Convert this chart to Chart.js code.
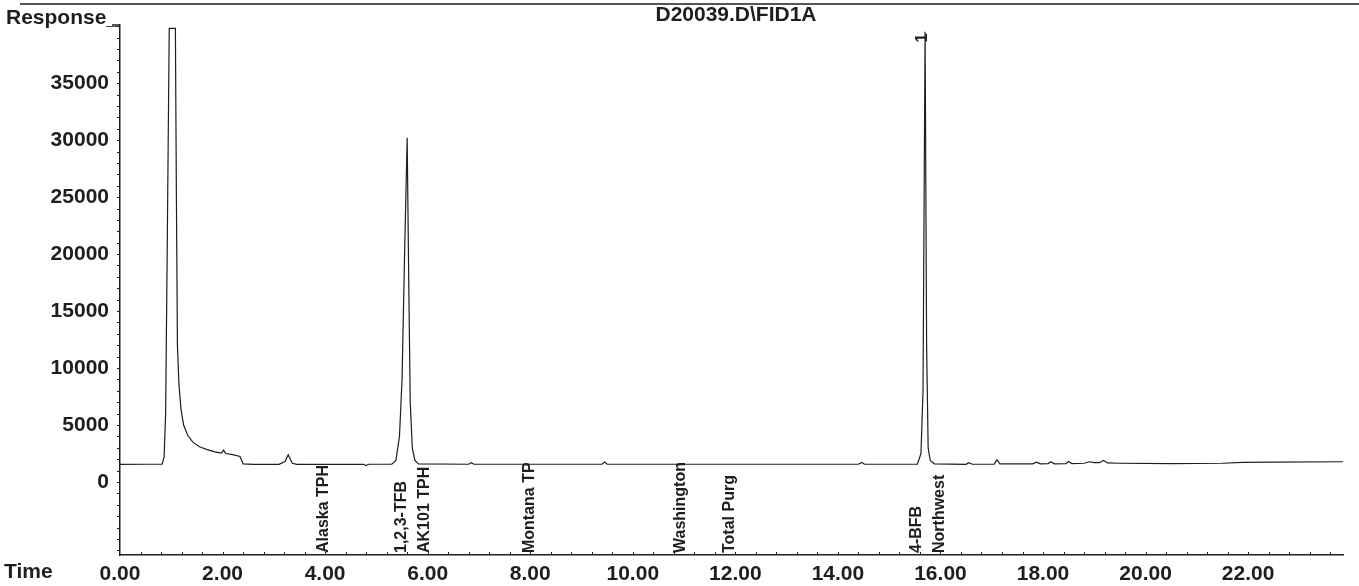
<!DOCTYPE html>
<html>
<head>
<meta charset="utf-8">
<script src="https://cdn.jsdelivr.net/npm/chart.js@4/dist/chart.umd.min.js"></script>
<style>
  body { margin: 0; background: #fff; }
  canvas { display: block; }
</style>
</head>
<body>
<canvas id="myChart" width="1359" height="586"></canvas>
<script>
// retention time (min) and detector response
var times = [0.00, 0.50, 0.82, 0.86, 0.89, 0.92, 0.96, 1.08, 1.10, 1.12, 1.15, 1.19, 1.24, 1.32, 1.42, 1.55, 1.70, 1.85, 1.98, 2.02, 2.06, 2.20, 2.34, 2.40, 2.60,
  3.10, 3.22, 3.28, 3.36, 3.45, 4.75, 4.80, 4.85, 5.30, 5.38, 5.45, 5.50, 5.55, 5.60, 5.63, 5.66, 5.70, 5.75, 5.82,
  6.80, 6.85, 6.90, 9.40, 9.45, 9.50, 14.40, 14.46, 14.52, 15.55, 15.62, 15.66, 15.70, 15.73, 15.76, 15.80, 15.88,
  16.50, 16.55, 16.62, 17.05, 17.10, 17.16, 17.80, 17.87, 17.95, 18.10, 18.15, 18.22, 18.45, 18.50, 18.56,
  18.80, 18.90, 19.00, 19.10, 19.18, 19.26, 19.50, 20.50, 21.50, 21.90, 22.50, 23.85];
var responses = [1550, 1560, 1580, 2200, 6000, 20000, 39800, 39800, 25000, 12000, 8500, 6400, 5000, 4100, 3500, 3100, 2850, 2650, 2550, 2800, 2500, 2400, 2250, 1600, 1550,
  1550, 1800, 2400, 1650, 1550, 1560, 1450, 1560, 1560, 1900, 4000, 9000, 20000, 30200, 18000, 7000, 3000, 1900, 1600,
  1560, 1700, 1560, 1560, 1750, 1560, 1560, 1720, 1560, 1570, 2500, 8000, 39500, 12000, 3000, 1900, 1600,
  1560, 1700, 1560, 1580, 1950, 1600, 1600, 1750, 1600, 1620, 1780, 1600, 1620, 1800, 1620,
  1650, 1780, 1700, 1700, 1900, 1680, 1650, 1620, 1650, 1720, 1740, 1780];

var markerNames = ['Alaska TPH', '1,2,3-TFB', 'AK101 TPH', 'Montana TP', 'Washington', 'Total Purg', '4-BFB', 'Northwest'];
var markerTimes = [3.98, 5.49, 5.94, 7.99, 10.94, 11.89, 15.53, 15.98];

var xTicks = [0, 2, 4, 6, 8, 10, 12, 14, 16, 18, 20, 22];
var yTicks = [0, 5000, 10000, 15000, 20000, 25000, 30000, 35000];

var peakLabelTime = 15.70;
var peakLabelText = '1';

var points = times.map(function (t, i) { return {x: t, y: responses[i]}; });

var ink = '#1e1e1e';
var boldFont = 'bold 21px "Liberation Sans", Arial, sans-serif';

var annotate = {
  id: 'annotate',
  afterDraw: function (chart) {
    var c = chart.ctx;
    var xs = chart.scales.x;
    var ys = chart.scales.y;
    var area = chart.chartArea;
    c.save();
    // header rule cut off at the top of the page
    c.strokeStyle = '#555';
    c.lineWidth = 2;
    c.beginPath();
    c.moveTo(20, 4);
    c.lineTo(1359, 4);
    c.stroke();

    c.fillStyle = ink;
    c.font = boldFont;
    c.textBaseline = 'alphabetic';
    c.textAlign = 'center';
    c.fillText('D20039.D\\FID1A', 736, 21);
    c.textAlign = 'left';
    c.fillText('Response_', 6, 24);
    c.fillText('Time', 4, 578);

    // corner at top of the response axis
    c.strokeStyle = ink;
    c.lineWidth = 1.5;
    c.beginPath();
    c.moveTo(112, area.top);
    c.lineTo(area.left, area.top);
    c.stroke();

    // small tick marks along both axes
    c.lineWidth = 1;
    c.beginPath();
    for (var t = 0.4; t < xs.max; t += 0.4) {
      var tx = Math.round(xs.getPixelForValue(t)) + 0.5;
      c.moveTo(tx, area.bottom);
      c.lineTo(tx, area.bottom - 3);
    }
    for (var v = -6000; v < ys.max; v += 1000) {
      var ty = Math.round(ys.getPixelForValue(v)) + 0.5;
      c.moveTo(area.left, ty);
      c.lineTo(area.left - 3, ty);
    }
    c.stroke();

    // compound labels, reading upward from the time axis
    c.font = 'bold 16px "Liberation Sans", Arial, sans-serif';
    c.textBaseline = 'middle';
    markerNames.forEach(function (name, i) {
      var px = xs.getPixelForValue(markerTimes[i]);
      c.save();
      c.translate(px, area.bottom - 2);
      c.rotate(-Math.PI / 2);
      c.fillText(name, 0, 0);
      c.restore();
    });

    // peak number above the internal standard
    c.save();
    c.translate(xs.getPixelForValue(peakLabelTime) - 2, 38);
    c.rotate(-Math.PI / 2);
    c.textAlign = 'center';
    c.fillText(peakLabelText, 0, 0);
    c.restore();
    c.restore();
  }
};

var ctx = document.getElementById('myChart').getContext('2d');
var myChart = new Chart(ctx, {
  type: 'line',
  data: {
    datasets: [{
      data: points,
      borderColor: ink,
      borderWidth: 1.2,
      pointRadius: 0,
      tension: 0,
      fill: false
    }]
  },
  options: {
    responsive: false,
    animation: false,
    layout: { padding: { top: 25, right: 16, left: 0, bottom: 0 } },
    plugins: {
      legend: { display: false },
      tooltip: { enabled: false }
    },
    scales: {
      x: {
        type: 'linear',
        min: 0,
        max: 23.85,
        afterFit: function (scale) { scale.height = 31; },
        afterBuildTicks: function (scale) {
          scale.ticks = xTicks.map(function (v) { return {value: v}; });
        },
        grid: { display: false, drawTicks: false },
        border: { display: true, color: ink, width: 1.5 },
        ticks: {
          color: ink,
          padding: 7,
          maxRotation: 0,
          font: { family: '"Liberation Sans", Arial, sans-serif', size: 21, weight: 'bold' },
          callback: function (v) { return Number(v).toFixed(2); }
        }
      },
      y: {
        min: -6400,
        max: 40100,
        afterFit: function (scale) { scale.width = 120; },
        afterBuildTicks: function (scale) {
          scale.ticks = yTicks.map(function (v) { return {value: v}; });
        },
        grid: { display: false, drawTicks: false },
        border: { display: true, color: ink, width: 1.5 },
        ticks: {
          color: ink,
          padding: 11,
          font: { family: '"Liberation Sans", Arial, sans-serif', size: 21, weight: 'bold' },
          callback: function (v) { return String(v); }
        }
      }
    }
  },
  plugins: [annotate]
});
</script>
</body>
</html>
